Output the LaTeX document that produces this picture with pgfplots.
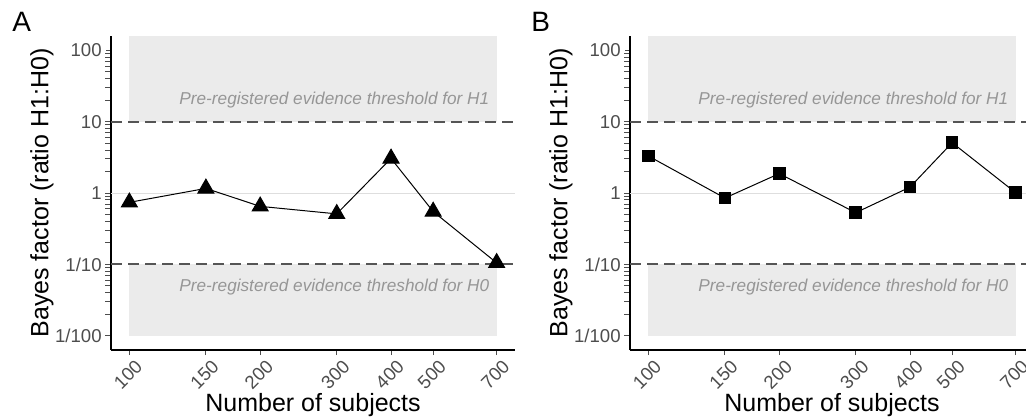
\documentclass[border=0pt]{standalone}
\usepackage{pgfplots}
\pgfplotsset{compat=1.18}
\usepackage{fontspec}
\setmainfont{Liberation Sans}
\definecolor{rectgray}{RGB}{235,235,235}
\definecolor{dashgray}{RGB}{85,85,85}
\definecolor{onegray}{RGB}{222,222,222}
\definecolor{annogray}{RGB}{150,150,150}
\definecolor{tickgray}{RGB}{77,77,77}

\newcommand{\background}{%
  \addplot[fill=rectgray, draw=none] coordinates {(100,10) (700,10) (700,158.49) (100,158.49)} -- cycle;
  \addplot[fill=rectgray, draw=none] coordinates {(100,0.01) (700,0.01) (700,0.1) (100,0.1)} -- cycle;
  \addplot[onegray, line width=0.5pt] coordinates {(90.73,1) (771.6,1)};
  \addplot[dashgray, line width=1.1pt, dash pattern=on 5.5pt off 3pt] coordinates {(90.73,10) (771.6,10)};
  \addplot[dashgray, line width=1.1pt, dash pattern=on 5.5pt off 3pt] coordinates {(90.73,0.1) (771.6,0.1)};
  \node[anchor=east, text=annogray, font=\fontsize{8.6}{10}\selectfont\itshape, inner sep=3.5pt] at (axis cs:700,20) {Pre-registered evidence threshold for H1};
  \node[anchor=east, text=annogray, font=\fontsize{8.6}{10}\selectfont\itshape, inner sep=3.5pt] at (axis cs:700,0.048) {Pre-registered evidence threshold for H0};
}

\begin{document}
\begin{tikzpicture}
\useasboundingbox (0,0) rectangle (513pt,209.5pt);

\begin{axis}[
  at={(55.5pt,34.5pt)}, anchor=south west,
  scale only axis, width=202pt, height=157pt,
  xmode=log, ymode=log,
  xmin=90.73, xmax=771.6, ymin=0.0063096, ymax=158.49,
  axis x line*=bottom, axis y line*=left,
  axis line style={black, line width=0.6pt, -},
  xtick={100,150,200,300,400,500,700},
  xticklabels={100,150,200,300,400,500,700},
  ytick={0.01,0.1,1,10,100},
  yticklabels={1/100,1/10,1,10,100},
  minor xtick={}, minor ytick={},
  tick style={tickgray, line width=0.5pt},
  tick align=outside, major tick length=2.5pt,
  ticklabel style={font=\fontsize{9.3}{10}\selectfont, text=tickgray},
  xticklabel style={rotate=45, anchor=north east, inner sep=1pt, yshift=-2pt, xshift=1.5pt},
  yticklabel style={inner sep=2pt},
  xlabel={Number of subjects},
  ylabel={Bayes factor (ratio H1:H0)},
  label style={font=\fontsize{12.5}{14}\selectfont},
  xlabel style={at={(axis description cs:0.5,-0.197)}, anchor=base},
  ylabel style={at={(axis description cs:-0.171,0.5)}, anchor=center},
]
\background
\addplot[black, line width=0.5pt, mark=triangle*, mark size=4.6pt, mark options={solid}] coordinates {
(100,0.74) (150,1.16) (200,0.65) (300,0.51) (400,3.05) (500,0.55) (700,0.105)};
\end{axis}

\begin{axis}[
  at={(315pt,34.5pt)}, anchor=south west,
  scale only axis, width=202pt, height=157pt,
  xmode=log, ymode=log,
  xmin=90.73, xmax=771.6, ymin=0.0063096, ymax=158.49,
  axis x line*=bottom, axis y line*=left,
  axis line style={black, line width=0.6pt, -},
  xtick={100,150,200,300,400,500,700},
  xticklabels={100,150,200,300,400,500,700},
  ytick={0.01,0.1,1,10,100},
  yticklabels={1/100,1/10,1,10,100},
  minor xtick={}, minor ytick={},
  tick style={tickgray, line width=0.5pt},
  tick align=outside, major tick length=2.5pt,
  ticklabel style={font=\fontsize{9.3}{10}\selectfont, text=tickgray},
  xticklabel style={rotate=45, anchor=north east, inner sep=1pt, yshift=-2pt, xshift=1.5pt},
  yticklabel style={inner sep=2pt},
  xlabel={Number of subjects},
  ylabel={Bayes factor (ratio H1:H0)},
  label style={font=\fontsize{12.5}{14}\selectfont},
  xlabel style={at={(axis description cs:0.5,-0.197)}, anchor=base},
  ylabel style={at={(axis description cs:-0.171,0.5)}, anchor=center},
]
\background
\addplot[black, line width=0.5pt, mark=square*, mark size=2.9pt, mark options={solid}] coordinates {
(100,3.3) (150,0.85) (200,1.87) (300,0.53) (400,1.21) (500,5.07) (700,1.01)};
\end{axis}

\node[anchor=base west, font=\fontsize{14}{16}\selectfont, inner sep=0pt] at (6pt,193.5pt) {A};
\node[anchor=base west, font=\fontsize{14}{16}\selectfont, inner sep=0pt] at (265.5pt,193.5pt) {B};
\end{tikzpicture}
\end{document}
